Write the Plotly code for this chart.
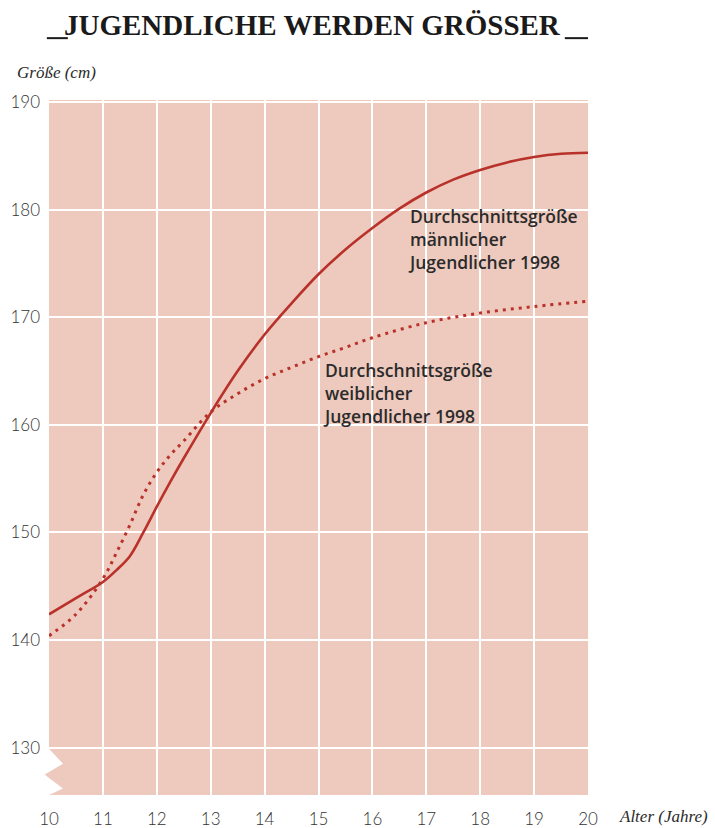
import plotly.graph_objects as go

# ---- data ----
age_male = [10, 10.5, 11, 11.25, 11.5, 11.75, 12, 12.25, 12.5, 13, 13.5, 14, 14.5,
            15, 15.5, 16, 16.5, 17, 17.5, 18, 18.5, 19, 19.5, 20]
height_male = [142.4, 143.9, 145.4, 146.5, 147.8, 150.0, 152.4, 154.7, 156.9, 161.1,
               165.0, 168.4, 171.3, 174.0, 176.3, 178.3, 180.1, 181.6, 182.8,
               183.7, 184.4, 184.9, 185.2, 185.3]

age_female = [10, 10.5, 11, 11.25, 11.5, 11.75, 12, 12.25, 12.5, 13, 13.5, 14,
              14.5, 15, 15.5, 16, 17, 18, 19, 20]
height_female = [140.4, 142.4, 145.7, 148.1, 150.7, 153.5, 155.6, 157.2, 158.5,
                 161.2, 162.9, 164.3, 165.35, 166.35, 167.2, 168.1, 169.5,
                 170.4, 171.0, 171.5]

x_ticks = list(range(10, 21))
y_ticks = [130, 140, 150, 160, 170, 180, 190]

title_text = "JUGENDLICHE WERDEN GRÖSSER"
y_title = "Größe (cm)"
x_title = "Alter (Jahre)"
label_male = "Durchschnittsgröße<br>männlicher<br>Jugendlicher 1998"
label_female = "Durchschnittsgröße<br>weiblicher<br>Jugendlicher 1998"

RED = "#B8312A"
PINK = "#EEC9BD"
TXT = "#2b2b2b"

fig = go.Figure()
fig.add_trace(go.Scatter(x=age_female, y=height_female, mode="lines",
                         line=dict(color=RED, width=3, dash="3px,5px", shape="spline"),
                         hoverinfo="skip", showlegend=False))
fig.add_trace(go.Scatter(x=age_male, y=height_male, mode="lines",
                         line=dict(color=RED, width=2.6, shape="spline"),
                         hoverinfo="skip", showlegend=False))

fig.update_layout(
    width=715, height=828,
    margin=dict(l=49, r=127, t=100, b=33),
    paper_bgcolor="white", plot_bgcolor=PINK,
    showlegend=False,
    xaxis=dict(range=[10, 20], tickvals=x_ticks, ticktext=[str(v) for v in x_ticks],
               showgrid=True, gridcolor="white", gridwidth=1.6, zeroline=False,
               showline=False, ticks="", ticklabelstandoff=12, automargin=False,
               tickfont=dict(family="Lato", size=17, color="#333333", weight=300)),
    yaxis=dict(range=[125.6, 190.2], tickvals=y_ticks, ticktext=[str(v) for v in y_ticks],
               showgrid=True, gridcolor="white", gridwidth=1.6, zeroline=False,
               showline=False, ticks="", ticklabelstandoff=8, automargin=False,
               tickfont=dict(family="Lato", size=17, color="#333333", weight=300)),
)

# axis-break zigzag at the lower left edge
fig.add_shape(type="path", xref="paper", yref="y", layer="above",
              path="M 0,129.9 L 0.026,128.5 L 0,127.74 Z", fillcolor="white", line_width=0)
fig.add_shape(type="path", xref="paper", yref="y", layer="above",
              path="M 0,127.19 L 0.026,126.2 L 0,125.6 Z", fillcolor="white", line_width=0)
fig.add_shape(type="path", xref="paper", yref="y", layer="above",
              path="M 0,127.74 L -0.008,127.5 L 0,127.19 Z", fillcolor=PINK, line_width=0)

# title with bars
fig.add_annotation(text=title_text, xref="paper", yref="paper", x=0.488, y=1.108,
                   xanchor="center", yanchor="middle", showarrow=False,
                   font=dict(family="Liberation Serif", size=29, color="#1a1a1a", weight="bold"))
fig.add_shape(type="line", xref="paper", yref="paper", x0=-0.004, x1=0.035, y0=1.089, y1=1.089,
              line=dict(color="#1a1a1a", width=2))
fig.add_shape(type="line", xref="paper", yref="paper", x0=0.957, x1=1.0, y0=1.089, y1=1.089,
              line=dict(color="#1a1a1a", width=2))

# axis titles
fig.add_annotation(text=y_title, xref="paper", yref="paper", x=-0.063, y=1.039,
                   xanchor="left", yanchor="middle", showarrow=False,
                   font=dict(family="Liberation Serif", size=17, color=TXT, style="italic"))
fig.add_annotation(text=x_title, xref="paper", yref="paper", x=1.054, y=-0.031,
                   xanchor="left", yanchor="middle", showarrow=False,
                   font=dict(family="Liberation Serif", size=17, color=TXT, style="italic"))

# series labels
fig.add_annotation(text=label_male, x=16.63, y=180.7, xanchor="left", yanchor="top",
                   align="left", showarrow=False,
                   font=dict(family="Open Sans", size=17.5, color=TXT, weight=600))
fig.add_annotation(text=label_female, x=15.05, y=166.4, xanchor="left", yanchor="top",
                   align="left", showarrow=False,
                   font=dict(family="Open Sans", size=17.5, color=TXT, weight=600))

fig.write_html("out.html", config={"displayModeBar": False},
               post_script="document.body.style.margin='0';document.body.style.overflow='hidden';")
